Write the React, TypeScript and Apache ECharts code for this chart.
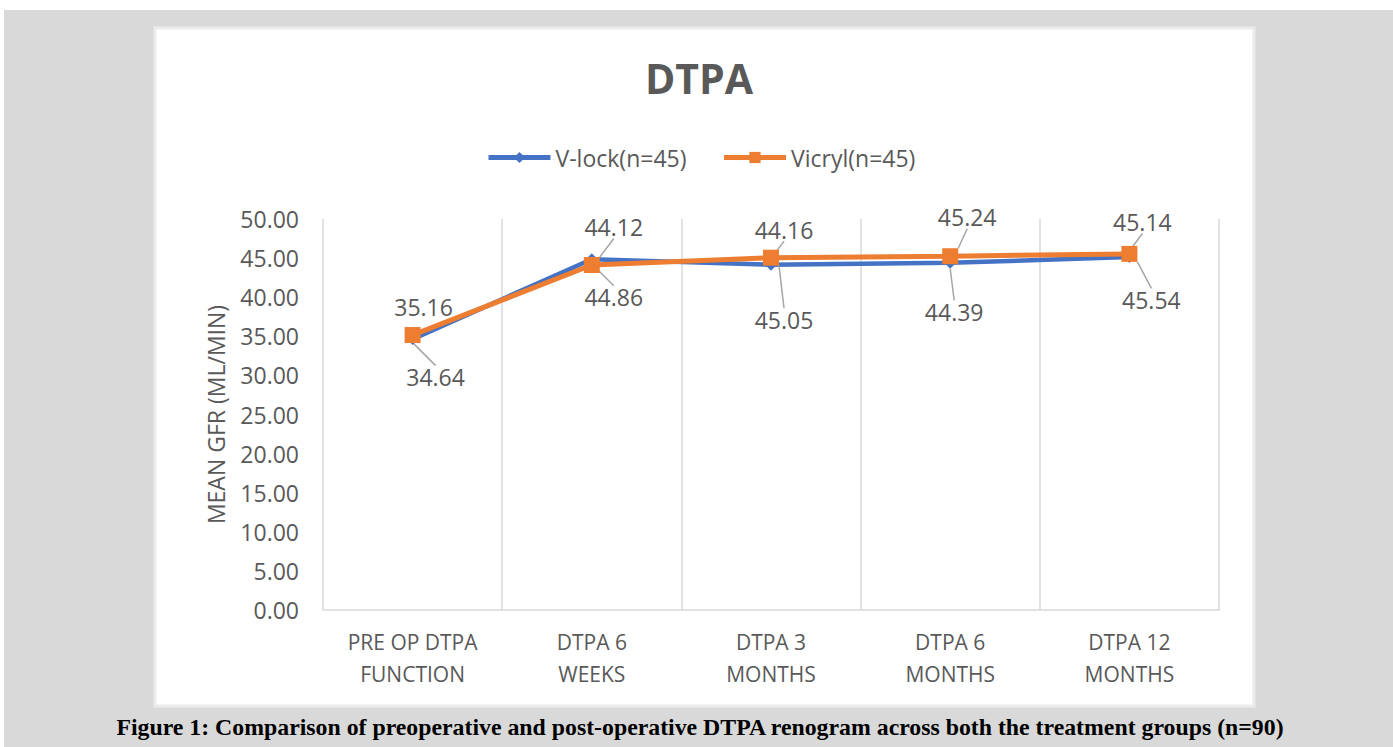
import React, { useEffect, useRef } from "react";
import * as echarts from "echarts";

const categories = [
  "PRE OP DTPA\nFUNCTION",
  "DTPA 6\nWEEKS",
  "DTPA 3\nMONTHS",
  "DTPA 6\nMONTHS",
  "DTPA 12\nMONTHS",
];
const vlock = [34.64, 44.86, 44.16, 44.39, 45.14];
const vicryl = [35.16, 44.12, 45.05, 45.24, 45.54];
const seriesNames = ["V-lock(n=45)", "Vicryl(n=45)"];
const yTicks = { min: 0, max: 50, interval: 5 };

// label offsets (px) from each point, styling only
const labelOffsets = [
  [[23, 38], [22, 38], [13, -35], [4, 49], [13, -35]],
  [[11, -28], [22, -38], [13, 62], [17, -39], [22, 46]],
];
const showLeader = [
  [true, true, true, true, true],
  [false, true, true, true, true],
];

const caption =
  "Figure 1: Comparison of preoperative and post-operative DTPA renogram across both the treatment groups (n=90)";

export default function App() {
  const ref = useRef<HTMLDivElement>(null);
  useEffect(() => {
    if (!ref.current) return;
    const chart = echarts.init(ref.current, null, { renderer: "svg" });
    const gray = "#595959";
    const font = "'Open Sans', 'Noto Sans', sans-serif";
    const mkData = (vals: number[], si: number) =>
      vals.map((v, i) => ({
        value: v,
        labelLine: { show: showLeader[si][i] },
      }));
    chart.setOption({
      animation: false,
      backgroundColor: "#ffffff",
      textStyle: { fontFamily: font },
      graphic: [
        {
          type: "rect",
          shape: { x: 4, y: 10, width: 1389, height: 737 },
          style: { fill: "#d9d9d9" },
          z: -10,
        },
        {
          type: "rect",
          shape: { x: 155, y: 28, width: 1099, height: 678 },
          style: { fill: "#ffffff", stroke: "#ebebeb", lineWidth: 3 },
          z: -9,
        },
        {
          type: "text",
          x: 700,
          y: 727,
          style: {
            text: caption,
            font: "bold 23.8px 'Liberation Serif', 'Times New Roman', serif",
            fill: "#000000",
            align: "center",
            verticalAlign: "middle",
          },
        },
      ],
      title: {
        text: "DTPA",
        left: 645,
        top: 57,
        padding: 0,
        textStyle: {
          fontFamily: font,
          fontSize: 41,
          fontWeight: "bold",
          color: gray,
        },
      },
      legend: {
        left: 486,
        top: 146,
        padding: 0,
        itemWidth: 62,
        itemHeight: 14,
        itemGap: 35,
        lineStyle: { width: 5 },
        textStyle: { fontFamily: font, fontSize: 23, color: gray },
        data: seriesNames,
      },
      grid: {
        left: 323,
        right: 174,
        top: 219,
        bottom: 137,
        containLabel: false,
      },
      xAxis: {
        type: "category",
        data: categories,
        boundaryGap: true,
        axisLine: { show: true, lineStyle: { color: "#d9d9d9", width: 1.5 } },
        axisTick: { show: false },
        splitLine: { show: true, lineStyle: { color: "#d9d9d9", width: 1.5 } },
        axisLabel: {
          interval: 0,
          margin: 16,
          fontFamily: font,
          fontSize: 21,
          lineHeight: 32,
          color: gray,
        },
      },
      yAxis: {
        type: "value",
        min: yTicks.min,
        max: yTicks.max,
        interval: yTicks.interval,
        name: "MEAN GFR (ML/MIN)",
        nameLocation: "middle",
        nameGap: 96,
        nameTextStyle: { fontFamily: font, fontSize: 23, color: gray },
        axisLine: { show: false },
        axisTick: { show: false },
        splitLine: { show: false },
        axisLabel: {
          margin: 24,
          fontFamily: font,
          fontSize: 23,
          color: gray,
          formatter: (v: number) => v.toFixed(2),
        },
      },
      series: [
        {
          name: seriesNames[0],
          type: "line",
          data: mkData(vlock, 0),
          color: "#4472C4",
          lineStyle: { width: 4.5, color: "#4472C4" },
          symbol: "diamond",
          symbolSize: 12,
          itemStyle: { color: "#4472C4" },
          label: {
            show: true,
            position: "inside",
            fontFamily: font,
            fontSize: 23,
            color: gray,
            formatter: (p: any) => p.value.toFixed(2),
          },
          labelLine: { show: true, lineStyle: { color: "#a6a6a6", width: 1.5 } },
          labelLayout: (p: any) => ({
            dx: labelOffsets[0][p.dataIndex][0],
            dy: labelOffsets[0][p.dataIndex][1],
          }),
          z: 2,
        },
        {
          name: seriesNames[1],
          type: "line",
          data: mkData(vicryl, 1),
          color: "#ED7D31",
          lineStyle: { width: 5, color: "#ED7D31" },
          symbol: "rect",
          symbolSize: 16,
          itemStyle: { color: "#ED7D31" },
          label: {
            show: true,
            position: "inside",
            fontFamily: font,
            fontSize: 23,
            color: gray,
            formatter: (p: any) => p.value.toFixed(2),
          },
          labelLine: { show: true, lineStyle: { color: "#a6a6a6", width: 1.5 } },
          labelLayout: (p: any) => ({
            dx: labelOffsets[1][p.dataIndex][0],
            dy: labelOffsets[1][p.dataIndex][1],
          }),
          z: 3,
        },
      ],
    });
    return () => chart.dispose();
  }, []);
  return (
    <div
      ref={ref}
      style={{ position: "absolute", left: 0, top: 0, width: 1393, height: 747 }}
    />
  );
}
